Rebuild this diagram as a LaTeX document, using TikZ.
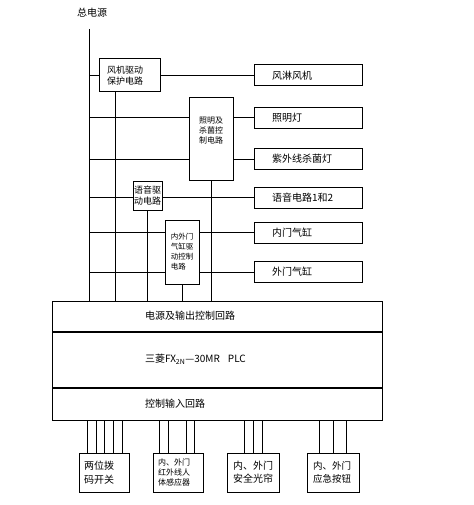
\documentclass[tikz,border=0pt]{standalone}
\usepackage{fontspec}
\setmainfont{Noto Sans CJK SC}
\tikzset{
  drv/.style={draw, inner ysep=0pt, align=left},
  load/.style={draw, minimum width=108, minimum height=21, inner xsep=18pt,
    text width=72pt, align=left, font=\fontsize{10}{12}\selectfont},
  bus/.style={draw, minimum width=330, inner xsep=93pt, text width=144pt,
    align=left, font=\fontsize{10}{12}\selectfont},
  sensor/.style={draw, minimum height=39, inner ysep=0pt, align=left}
}
\begin{document}
\begin{tikzpicture}[x=1pt, y=-1pt, line width=1pt]
  \useasboundingbox (0,0) rectangle (473,505);

  % power source
  \node[font=\fontsize{10}{12}\selectfont] (title) at (92,13) {总电源};
  \coordinate (src) at (89,29);

  % driver circuits
  \node[drv, minimum width=61, minimum height=33, inner xsep=8pt, text width=45pt,
    font=\fontsize{9}{11}\selectfont] (fandrv) at (129.5,75.5) {风机驱动\\保护电路};
  \node[drv, minimum width=44, minimum height=82] (litdrv) at (211,139) {};
  \node[font=\fontsize{8}{10}\selectfont, align=center, inner sep=0pt] (littxt)
    at ([yshift=8pt]litdrv.center) {照明及\\杀菌控\\制电路};
  \node[drv, minimum width=29, minimum height=29, inner xsep=1pt, text width=27pt,
    font=\fontsize{9}{11}\selectfont] (voxdrv) at (147.5,195.5) {语音驱\\动电路};
  \node[drv, minimum width=34, minimum height=64, inner xsep=5.75pt, text width=22.5pt,
    font=\fontsize{7.5}{10}\selectfont] (doordrv) at (182,252) {内外门\\气缸驱\\动控制\\电路};

  % loads
  \def \Loads {
    fengji/75.5/风淋风机,
    zhaoming/118/照明灯,
    ziwai/159/紫外线杀菌灯,
    yuyin/197.5/语音电路1和2,
    neimen/232.5/内门气缸,
    waimen/272/外门气缸}
  \foreach \id / \y / \w in \Loads {
    \node[load] (\id) at (308,\y) {\w};
  }

  % PLC
  \node[bus, minimum height=30] (outbus) at (217,316) {电源及输出控制回路};
  \node[bus, minimum height=55, anchor=north] (plc) at (outbus.south)
    {三菱FX\textsubscript{2N}—30MR\hspace{0.8em}PLC};
  \node[bus, minimum height=32, anchor=north] (inbus) at (plc.south) {控制输入回路};

  % inputs
  \node[sensor, minimum width=50, inner xsep=5pt, text width=40pt,
    font=\fontsize{10}{14}\selectfont] (sw) at (104,472.5) {两位拨\\码开关};
  \node[sensor, minimum width=50, inner xsep=5pt, text width=40pt,
    font=\fontsize{8}{10}\selectfont] (ir) at (178,472.5) {内、外门\\红外线人\\体感应器};
  \node[sensor, minimum width=52, inner xsep=6pt, text width=40pt,
    font=\fontsize{10}{13}\selectfont] (cur) at (253,472.5) {内、外门\\安全光帘};
  \node[sensor, minimum width=52, inner xsep=6pt, text width=40pt,
    font=\fontsize{9.5}{13}\selectfont] (btn) at (333,472.5) {内、外门\\应急按钮};

  % wiring
  \draw (src) -- (src |- outbus.north);
  \draw (src |- fandrv.west) -- (fandrv.west);
  \draw (fandrv.east) -- (fengji.west);
  \draw ([xshift=-14.5pt]fandrv.south) -- ([xshift=-14.5pt]fandrv.south |- outbus.north);
  \foreach \id in {zhaoming, ziwai} {
    \draw (src |- \id.west) -- (litdrv.west |- \id.west);
    \draw (litdrv.east |- \id.west) -- (\id.west);
  }
  \draw (litdrv.south) -- (litdrv.south |- outbus.north);
  \draw (src |- yuyin.west) -- (voxdrv.west |- yuyin.west);
  \draw (voxdrv.east |- yuyin.west) -- (yuyin.west);
  \draw (voxdrv.south) -- (voxdrv.south |- outbus.north);
  \foreach \id in {neimen, waimen} {
    \draw (src |- \id.west) -- (doordrv.west |- \id.west);
    \draw (doordrv.east |- \id.west) -- (\id.west);
  }
  \draw (doordrv.south) -- (doordrv.south |- outbus.north);

  \foreach \d in {-17,-8,0,9,18}
    \draw ([xshift=\d pt]sw.north) -- ([xshift=\d pt]sw.north |- inbus.south);
  \foreach \d in {-19,-10,8,16}
    \draw ([xshift=\d pt]ir.north) -- ([xshift=\d pt]ir.north |- inbus.south);
  \foreach \d in {-9,0,9}
    \draw ([xshift=\d pt]cur.north) -- ([xshift=\d pt]cur.north |- inbus.south);
  \foreach \d in {-14,0,13}
    \draw ([xshift=\d pt]btn.north) -- ([xshift=\d pt]btn.north |- inbus.south);
\end{tikzpicture}
\end{document}
